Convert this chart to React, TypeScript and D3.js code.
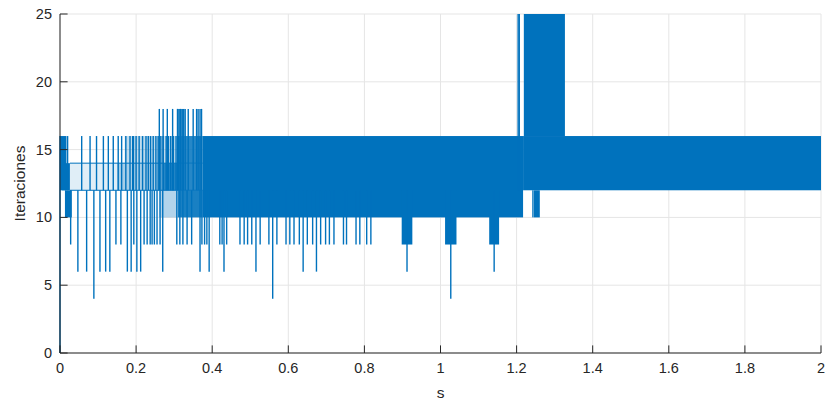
import React from "react";
import * as d3 from "d3";

// ---- data ----
const xTicks = [0, 0.2, 0.4, 0.6, 0.8, 1, 1.2, 1.4, 1.6, 1.8, 2];
const yTicks = [0, 5, 10, 15, 20, 25];

// dense oscillation envelopes: [t0, t1, lo, hi, density]
const bandT0 = [0.0, 0.005, 0.013, 0.026, 0.15, 0.27, 0.17, 0.31, 0.26, 0.31, 0.307, 0.375, 1.217, 1.219];
const bandT1 = [0.017, 0.026, 0.031, 0.15, 0.27, 0.375, 0.31, 0.375, 0.31, 0.375, 0.329, 1.217, 2.0, 1.327];
const bandLo = [12, 12, 10, 12, 12, 12, 14, 14, 10, 10, 16, 10, 12, 16];
const bandHi = [16, 14, 12, 14, 14, 14, 16, 16, 12, 12, 18, 16, 16, 25];
const bandDensity = [1, 1, 1, 0.12, 0.35, 0.85, 0.25, 0.85, 0.3, 0.9, 0.55, 1, 1, 1];

// short blocks dipping to a lower level: [t0, t1, lo]
const dipT0 = [0.898, 1.012, 1.128, 1.241, 1.244];
const dipT1 = [0.926, 1.042, 1.154, 1.243, 1.261];
const dipLo = [8, 8, 8, 10, 10];

// baseline levels of the early sparse oscillation
const levelT0 = 0.026;
const levelT1 = 0.375;
const levels = [12, 14];

// upward spikes to 16
const spike16 = [0.02, 0.057, 0.079, 0.096, 0.114, 0.127, 0.14, 0.153, 0.162, 0.173, 0.184, 0.191, 0.193, 0.2, 0.208, 0.217, 0.226, 0.232, 0.238, 0.245, 0.252, 0.258, 0.265, 0.271, 0.279, 0.285, 0.291, 0.298, 0.305, 0.311];
// upward spikes to 18
const spike18 = [0.261, 0.271, 0.282, 0.296, 0.309, 0.313, 0.317, 0.321, 0.324, 0.329, 0.337, 0.35, 0.359, 0.363, 0.368, 0.372];
// upward spikes to 25
const spike25 = [1.204, 1.207];

// downward spikes: time and lowest value
const downT = [0.028, 0.047, 0.07, 0.089, 0.105, 0.12, 0.131, 0.147, 0.16, 0.177, 0.187, 0.194, 0.202, 0.212, 0.221, 0.229, 0.237, 0.242, 0.248, 0.255, 0.263, 0.27, 0.307, 0.315, 0.323, 0.334, 0.346, 0.368, 0.373, 0.38, 0.386, 0.392, 0.42, 0.426, 0.431, 0.438, 0.473, 0.484, 0.493, 0.504, 0.515, 0.526, 0.549, 0.559, 0.57, 0.594, 0.604, 0.615, 0.629, 0.639, 0.65, 0.664, 0.674, 0.685, 0.698, 0.708, 0.72, 0.745, 0.753, 0.778, 0.788, 0.806, 0.817, 0.912, 1.027, 1.141];
const downV = [8, 6, 6, 4, 6, 6, 6, 8, 8, 6, 6, 8, 6, 6, 8, 8, 8, 8, 8, 8, 8, 6, 8, 8, 8, 8, 8, 6, 8, 8, 8, 6, 8, 8, 6, 8, 8, 8, 8, 8, 6, 8, 8, 4, 8, 8, 8, 8, 8, 6, 8, 8, 6, 8, 8, 8, 8, 8, 8, 8, 8, 8, 8, 6, 4, 6];

const startSegment = [0, 16]; // initial jump at t = 0

const COLOR = "#0072BD";
const AXIS = "#262626";
const GRID = "#e5e5e5";
const FONT = "'Liberation Sans', Arial, Helvetica, sans-serif";

export default function App() {
  const W = 825, H = 405;
  const m = { l: 60, r: 4, t: 14, b: 52 };
  const x = d3.scaleLinear().domain([0, 2]).range([m.l, W - m.r]);
  const y = d3.scaleLinear().domain([0, 25]).range([H - m.b, m.t]);
  const x0 = x.range()[0], x1 = x.range()[1];
  const y0 = y.range()[0], y1 = y.range()[1];

  const vline = (t: number, a: number, b: number, key: string, sw = 1.4) => (
    <line key={key} x1={x(t)} x2={x(t)} y1={y(a)} y2={y(b)} stroke={COLOR} strokeWidth={sw} />
  );

  return (
    <svg width={W} height={H} style={{ position: "absolute", left: 0, top: 0, background: "#fff" }}>
      <rect width={W} height={H} fill="#fff" />
      {/* grid */}
      {xTicks.map((t) => (
        <line key={"gx" + t} x1={x(t)} x2={x(t)} y1={y0} y2={y1} stroke={GRID} strokeWidth={1} />
      ))}
      {yTicks.map((v) => (
        <line key={"gy" + v} x1={x0} x2={x1} y1={y(v)} y2={y(v)} stroke={GRID} strokeWidth={1} />
      ))}

      {/* data */}
      <g>
        {bandT0.map((t0, i) => (
          <rect key={"b" + i} x={x(t0)} y={y(bandHi[i])} width={x(bandT1[i]) - x(t0)} height={y(bandLo[i]) - y(bandHi[i])} fill={COLOR} fillOpacity={bandDensity[i]} />
        ))}
        {dipT0.map((t0, i) => (
          <rect key={"d" + i} x={x(t0)} y={y(12)} width={x(dipT1[i]) - x(t0)} height={y(dipLo[i]) - y(12)} fill={COLOR} />
        ))}
        {levels.map((v) => (
          <line key={"lv" + v} x1={x(levelT0)} x2={x(levelT1)} y1={y(v)} y2={y(v)} stroke={COLOR} strokeWidth={1} />
        ))}
        {vline(0, startSegment[0], startSegment[1], "start")}
        {spike16.map((t, i) => vline(t, 12, 16, "s16" + i))}
        {spike18.map((t, i) => vline(t, 12, 18, "s18" + i))}
        {spike25.map((t, i) => vline(t, 12, 25, "s25" + i))}
        {downT.map((t, i) => vline(t, 12, downV[i], "dn" + i))}
      </g>

      {/* axes */}
      <line x1={x0} x2={x1} y1={y0} y2={y0} stroke={AXIS} strokeWidth={1} />
      <line x1={x0} x2={x0} y1={y0} y2={y1} stroke={AXIS} strokeWidth={1} />
      {xTicks.map((t) => (
        <g key={"xt" + t}>
          <line x1={x(t)} x2={x(t)} y1={y0} y2={y0 - 7.6} stroke={AXIS} strokeWidth={1} />
          <text x={x(t)} y={y0 + 20} textAnchor="middle" fontFamily={FONT} fontSize={14.5} fill={AXIS}>{String(t)}</text>
        </g>
      ))}
      {yTicks.map((v) => (
        <g key={"yt" + v}>
          <line x1={x0} x2={x0 + 7.6} y1={y(v)} y2={y(v)} stroke={AXIS} strokeWidth={1} />
          <text x={x0 - 8} y={y(v) + 5} textAnchor="end" fontFamily={FONT} fontSize={14.5} fill={AXIS}>{String(v)}</text>
        </g>
      ))}
      <text x={(x0 + x1) / 2} y={y0 + 45} textAnchor="middle" fontFamily={FONT} fontSize={15.5} fill={AXIS}>s</text>
      <text transform={`translate(${x0 - 35},${(y0 + y1) / 2}) rotate(-90)`} textAnchor="middle" fontFamily={FONT} fontSize={15.5} fill={AXIS}>Iteraciones</text>
    </svg>
  );
}
